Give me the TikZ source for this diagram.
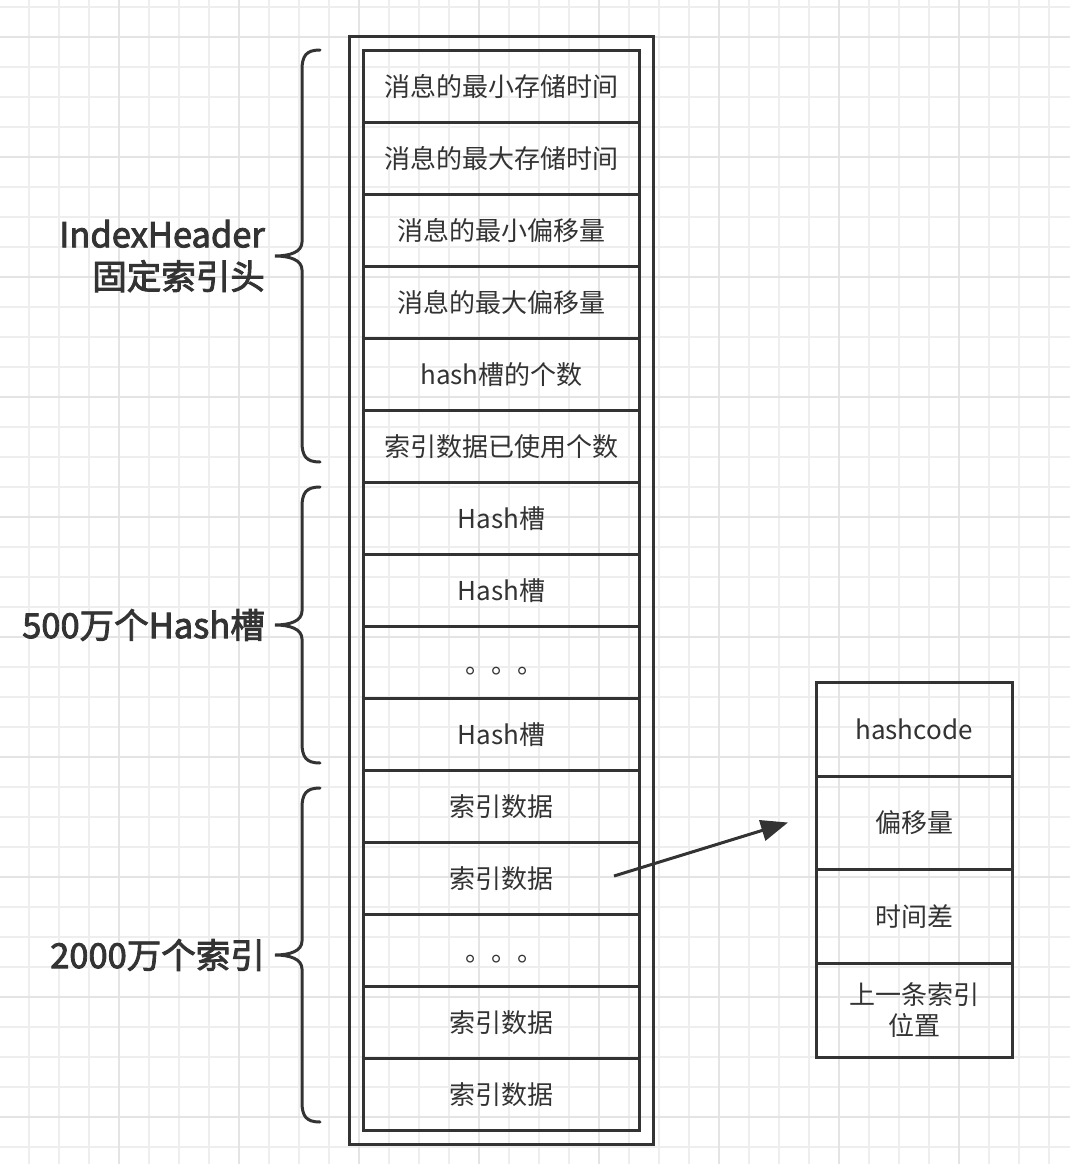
\documentclass[tikz,border=0pt]{standalone}
\usepackage{fontspec}
\setmainfont{Noto Sans CJK SC}
\newfontfamily\headfont[FakeBold=2.5]{Noto Sans CJK SC}
\usetikzlibrary{positioning,arrows.meta,fit}
\definecolor{ink}{HTML}{333333}
\definecolor{gridminor}{HTML}{EEEEEE}
\definecolor{gridmajor}{HTML}{E4E4E4}

\begin{document}
\begin{tikzpicture}[x=1pt,y=-1pt,>=Stealth,
      cell/.style={draw=ink,line width=3pt,minimum width=276pt,minimum height=72pt,
        inner sep=0pt,outer sep=0pt,text=ink,align=center,font=\fontsize{26}{31}\selectfont},
      field/.style={cell,minimum width=196pt,minimum height=93.7pt},
      brace/.style={draw=ink,line width=3pt,line cap=round},
      tag/.style={text=ink,align=right,inner sep=0pt,font=\headfont\fontsize{34.5}{42}\selectfont},
      minorgrid/.style={draw=gridminor,line width=2pt},
      majorgrid/.style={draw=gridmajor,line width=2pt}]
      % background and grid
      \fill[white] (0,0) rectangle (1070,1164);
      \useasboundingbox (0,0) rectangle (1070,1164);
      \foreach \gx in {29.3,59.3,...,1060} \draw[minorgrid] (\gx,0) -- (\gx,1164);
      \foreach \gy in {6.7,36.7,...,1164} \draw[minorgrid] (0,\gy) -- (1070,\gy);
      \foreach \gx in {119.3,239.3,...,1060} \draw[majorgrid] (\gx,0) -- (\gx,1164);
      \foreach \gy in {36.7,156.7,...,1164} \draw[majorgrid] (0,\gy) -- (1070,\gy);

      % index file
      \node[cell] (mintime) at (501.5,86.5) {消息的最小存储时间};
      \node[cell, below=0pt of mintime] (maxtime)  {消息的最大存储时间};
      \node[cell, below=0pt of maxtime] (minoff)   {消息的最小偏移量};
      \node[cell, below=0pt of minoff]  (maxoff)   {消息的最大偏移量};
      \node[cell, below=0pt of maxoff]  (slotnum)  {hash槽的个数};
      \node[cell, below=0pt of slotnum] (idxnum)   {索引数据已使用个数};
      \node[cell, below=0pt of idxnum]  (slot1)    {Hash槽};
      \node[cell, below=0pt of slot1]   (slot2)    {Hash槽};
      \node[cell, below=0pt of slot2]   (slotdots) {\hspace*{5pt}\raisebox{-11pt}[0pt][0pt]{。。。}};
      \node[cell, below=0pt of slotdots](slotn)    {Hash槽};
      \node[cell, below=0pt of slotn]   (idx1)     {索引数据};
      \node[cell, below=0pt of idx1]    (idx2)     {索引数据};
      \node[cell, below=0pt of idx2]    (idxdots)  {\hspace*{5pt}\raisebox{-11pt}[0pt][0pt]{。。。}};
      \node[cell, below=0pt of idxdots] (idxm)     {索引数据};
      \node[cell, below=0pt of idxm]    (idxn)     {索引数据};
      \node[draw=ink,line width=3pt,inner sep=14pt,fit=(mintime)(idxn)] (file) {};

      % one index entry
      \node[field] (hcode) at (914,729.3) {hashcode};
      \node[field, below=0pt of hcode]  (offset) {偏移量};
      \node[field, below=0pt of offset] (tdiff)  {时间差};
      \node[field, below=0pt of tdiff]  (prev)   {上一条索引\\位置};

      \coordinate (from) at (614,876);
      \coordinate (to) at (788,822.5);
      \draw[draw=ink,fill=ink,line width=3pt,-{Triangle[length=27pt,width=21pt]}] (from) -- (to);

      % braces
      \draw[brace] (320,50) .. controls (306,50) and (302,56) .. (302,70) -- (302,242)
        .. controls (302,252) and (290,256) .. (275,256) .. controls (290,256) and (302,260) .. (302,270)
        -- (302,442) .. controls (302,456) and (306,462) .. (320,462);
      \draw[brace] (320,487) .. controls (306,487) and (302,493) .. (302,507) -- (302,611)
        .. controls (302,621) and (290,625) .. (275,625) .. controls (290,625) and (302,629) .. (302,639)
        -- (302,743) .. controls (302,757) and (306,763) .. (320,763);
      \draw[brace] (320,788) .. controls (306,788) and (302,794) .. (302,808) -- (302,941)
        .. controls (302,951) and (290,955) .. (275,955) .. controls (290,955) and (302,959) .. (302,969)
        -- (302,1102) .. controls (302,1116) and (306,1122) .. (320,1122);
      \coordinate (headtip) at (275,256);
      \coordinate (slottip) at (275,625);
      \coordinate (idxtip)  at (275,955);
      \node[tag, left=10pt of headtip] (headlbl) {IndexHeader\\固定索引头};
      \node[tag, left=10pt of slottip] (slotlbl) {500万个Hash槽};
      \node[tag, left=10pt of idxtip]  (idxlbl)  {2000万个索引};
    \end{tikzpicture}
\end{document}
